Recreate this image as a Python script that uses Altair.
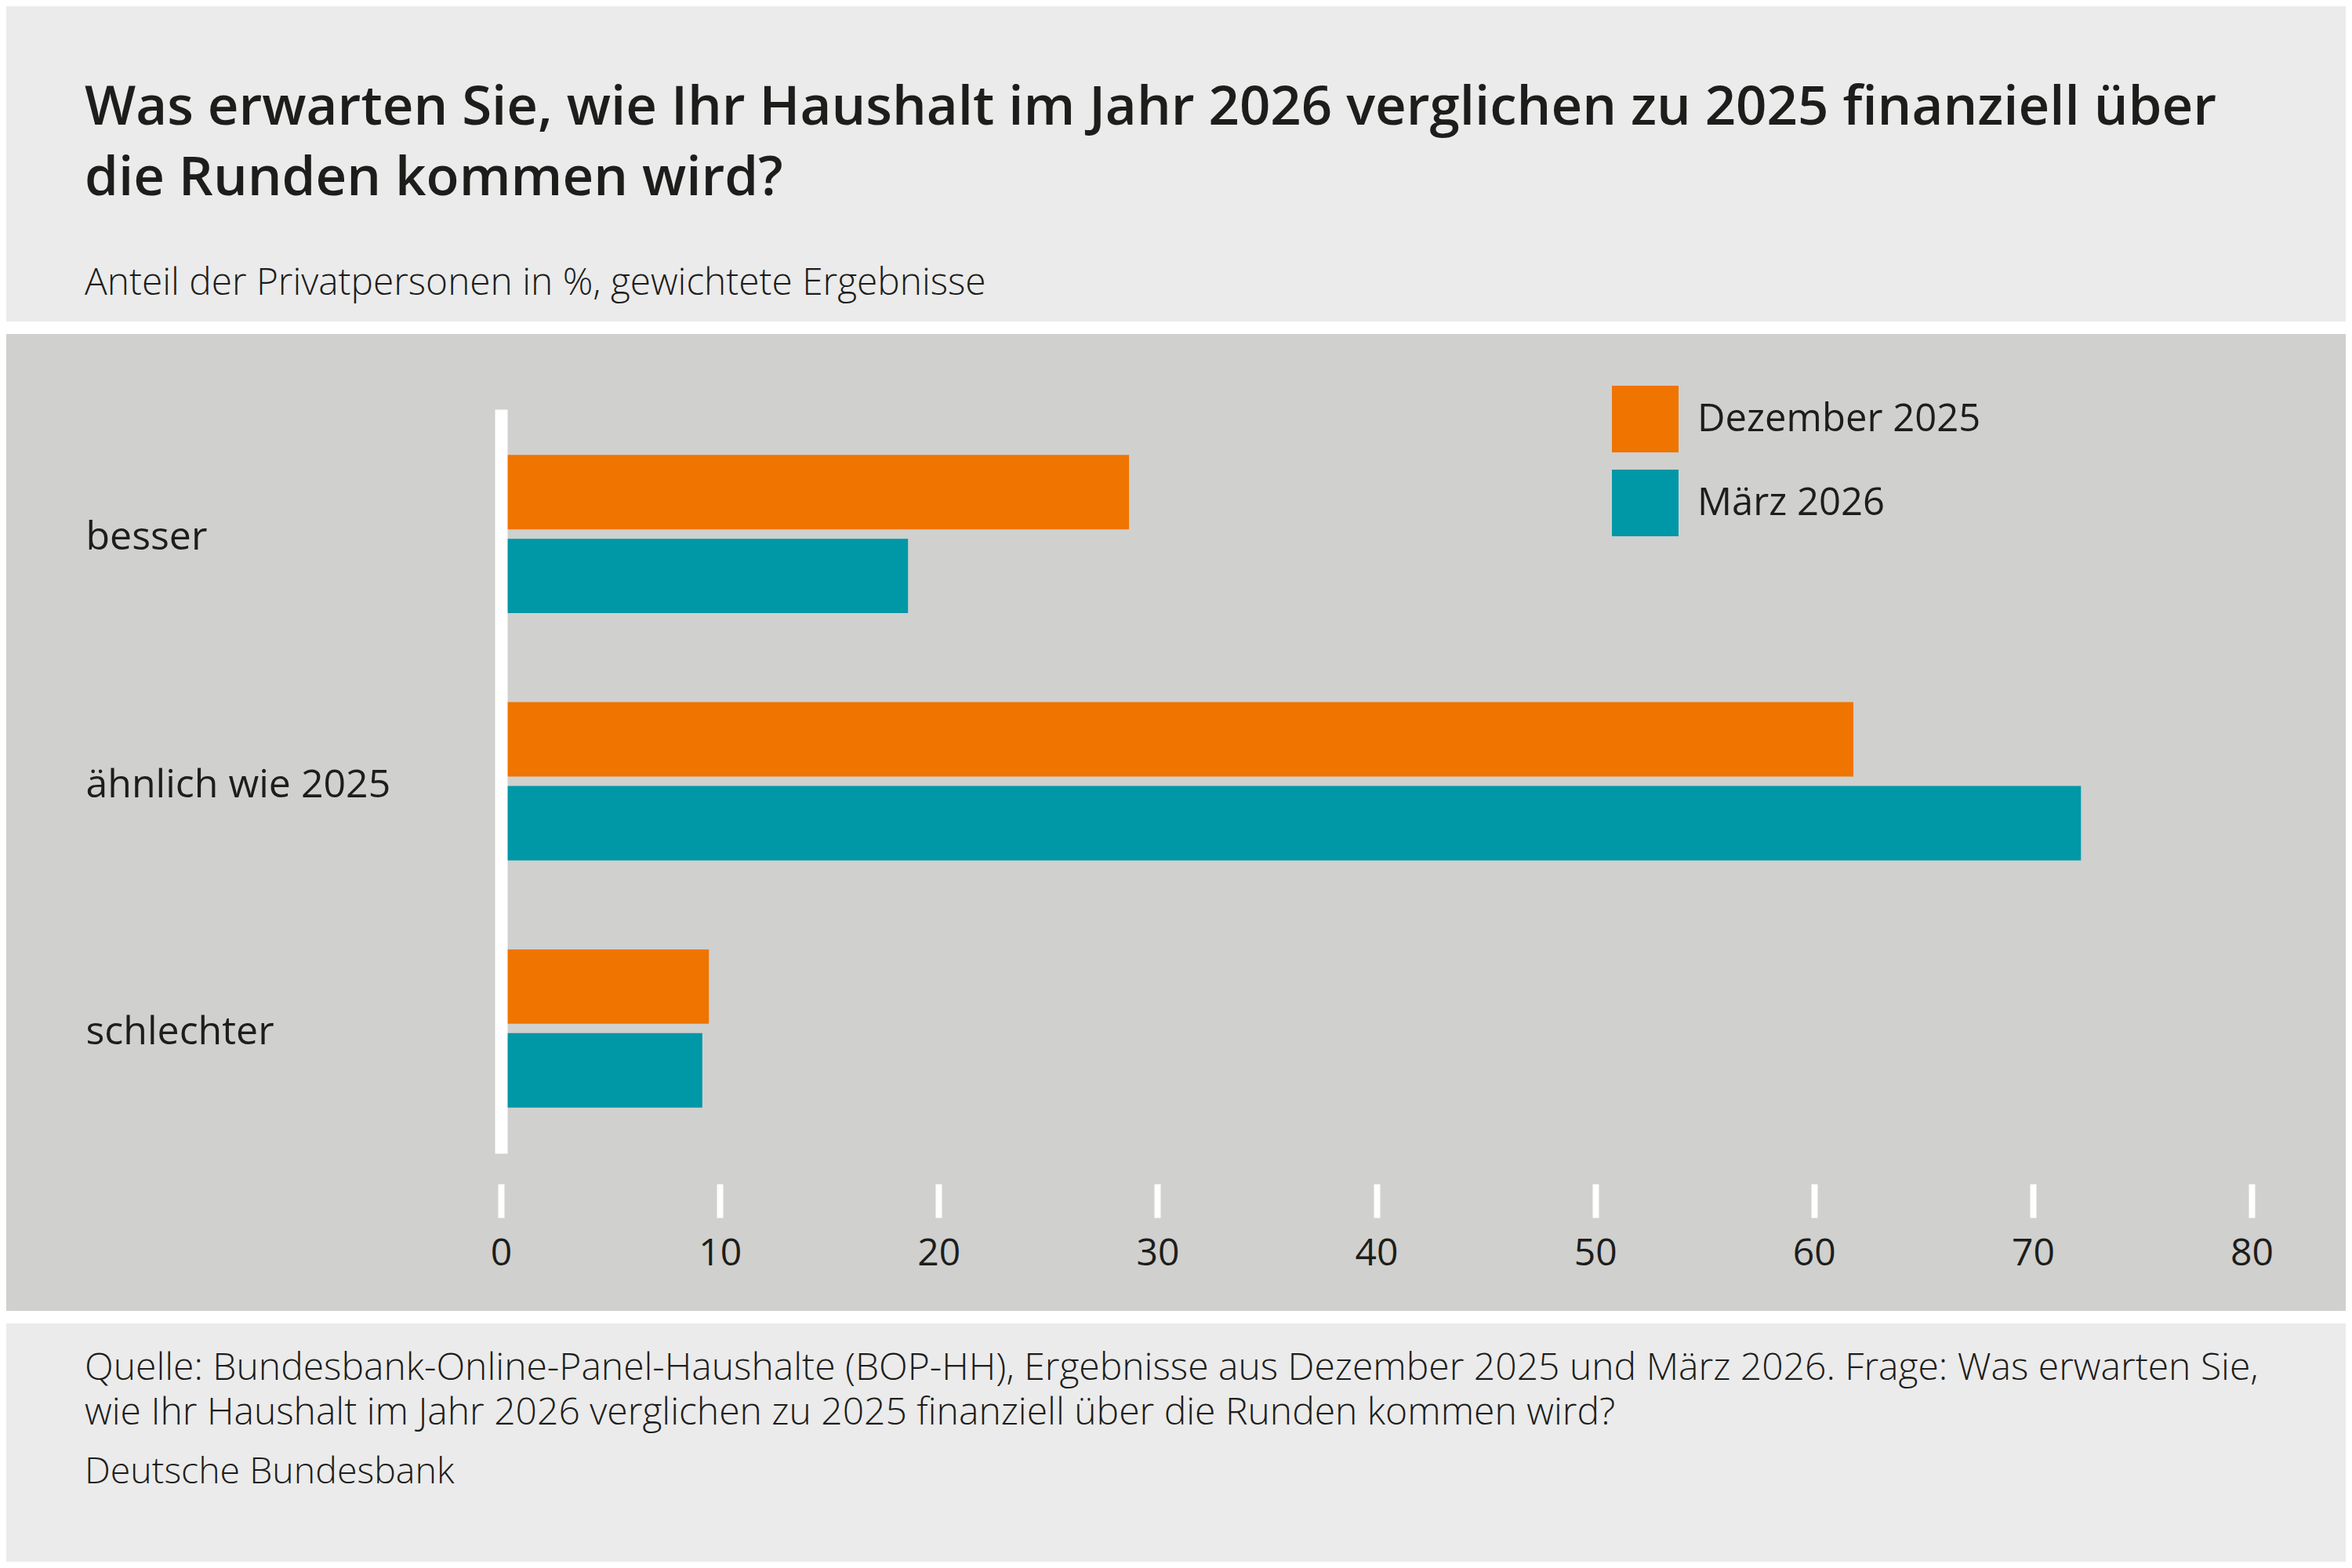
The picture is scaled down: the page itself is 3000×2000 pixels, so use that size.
import altair as alt
import pandas as pd

# values (percent of respondents)
categories = ["besser", "ähnlich wie 2025", "schlechter"]
rounds = ["Dezember 2025", "März 2026"]
dez_2025 = [28.7, 61.8, 9.5]
maerz_2026 = [18.6, 72.2, 9.2]
x_ticks = [0, 10, 20, 30, 40, 50, 60, 70, 80]

title_lines = [
    "Was erwarten Sie, wie Ihr Haushalt im Jahr 2026 verglichen zu 2025 finanziell über",
    "die Runden kommen wird?",
]
subtitle = "Anteil der Privatpersonen in %, gewichtete Ergebnisse"
source_lines = [
    "Quelle: Bundesbank-Online-Panel-Haushalte (BOP-HH), Ergebnisse aus Dezember 2025 und März 2026. Frage: Was erwarten Sie,",
    "wie Ihr Haushalt im Jahr 2026 verglichen zu 2025 finanziell über die Runden kommen wird?",
]
publisher = "Deutsche Bundesbank"

ORANGE = "#ef7400"
TEAL = "#0097a7"
PANEL = "#d0d0ce"
BG = "#ebebeb"
INK = "#1d1d1b"
FONT = "Open Sans"

rows = []
for cat, a, b in zip(categories, dez_2025, maerz_2026):
    rows.append({"kategorie": cat, "runde": rounds[0], "anteil": a})
    rows.append({"kategorie": cat, "runde": rounds[1], "anteil": b})
df = pd.DataFrame(rows)

one = pd.DataFrame({"k": [0]})

W, H = 2233, 949


def band(y0, y1, color):
    return alt.Chart(one).mark_rect(color=color).encode(
        x=alt.value(-700), x2=alt.value(2400), y=alt.value(y0), y2=alt.value(y1)
    )


panel = band(-96, 1150, PANEL)
top_line = band(-112, -96, "white")
bottom_line = band(1150, 1166, "white")

bars = alt.Chart(df).mark_bar().encode(
    x=alt.X(
        "anteil:Q",
        scale=alt.Scale(domain=[0, 80], nice=False),
        axis=alt.Axis(
            values=x_ticks, title=None, domain=False, grid=False, zindex=1,
            tickColor="white", tickWidth=8, tickSize=43, offset=39,
            labelFont=FONT, labelFontSize=48, labelColor=INK, labelPadding=22,
            labelFlush=False,
        ),
    ),
    y=alt.Y(
        "kategorie:N", sort=categories,
        scale=alt.Scale(paddingInner=0.36, paddingOuter=0.185),
        axis=alt.Axis(
            title=None, domainColor="white", domainWidth=16, ticks=False, tickSize=0,
            labelAlign="left", labelPadding=530, labelBaseline="middle", zindex=1,
            labelFont=FONT, labelFontSize=50, labelFontWeight=500, labelColor=INK,
            labelLimit=480, labelOffset=5,
        ),
    ),
    yOffset=alt.YOffset(
        "runde:N", sort=rounds,
        scale=alt.Scale(paddingInner=0.112, paddingOuter=0),
    ),
    color=alt.Color(
        "runde:N", sort=rounds,
        scale=alt.Scale(domain=rounds, range=[ORANGE, TEAL]),
        legend=alt.Legend(
            title=None, orient="none", legendX=1417, legendY=-30, padding=0,
            symbolType="square", symbolSize=7225, symbolStrokeWidth=0, symbolOpacity=1,
            labelFont=FONT, labelFontSize=49, labelFontWeight=500, labelColor=INK,
            labelOffset=24, rowPadding=22, labelLimit=800,
        ),
    ),
)


def text(lines, y, size, weight, line_height):
    return alt.Chart(one).mark_text(
        align="left", baseline="alphabetic", font=FONT, fontSize=size,
        fontWeight=weight, color=INK, lineHeight=line_height,
    ).encode(x=alt.value(-531), y=alt.value(y), text=alt.value(lines))


title = text(title_lines, -363, 69, 600, 90)
sub = text(subtitle, -146, 47.8, 300, 50)
source = text(source_lines, 1238, 48, 300, 57)
pub = text(publisher, 1370, 46.5, 300, 50)

chart = alt.layer(panel, top_line, bottom_line, bars, title, sub, source, pub).properties(
    width=W, height=H,
    padding={"left": 631, "top": 514, "right": 120, "bottom": 521},
    autosize=alt.AutoSizeParams(type="none"),
    background=BG,
).configure_view(strokeWidth=0)

chart.save("out.html", embed_options={"renderer": "svg", "actions": False})
